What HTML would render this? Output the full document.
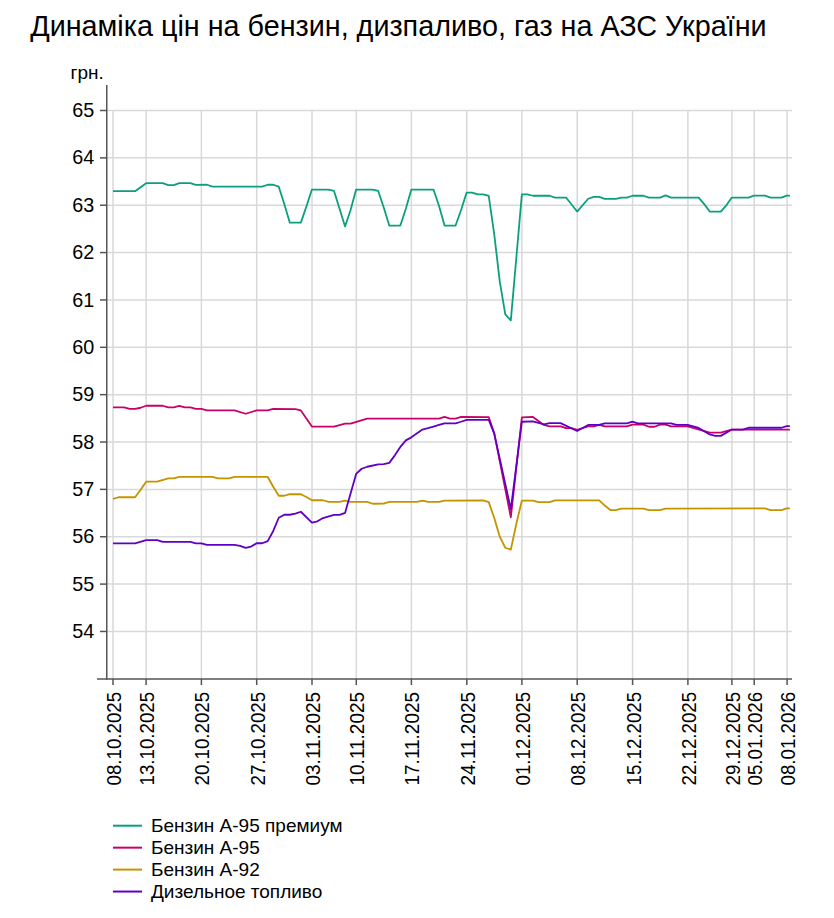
<!DOCTYPE html>
<html><head><meta charset="utf-8"><style>html,body{margin:0;padding:0;background:#fff;width:834px;height:918px;overflow:hidden}svg{display:block}</style></head>
<body><svg width="834" height="918" viewBox="0 0 834 918"><rect width="834" height="918" fill="#fff"/><g stroke="#d9d9d9" stroke-width="1.5"><line x1="107" y1="631.46" x2="792" y2="631.46"/><line x1="107" y1="584.10" x2="792" y2="584.10"/><line x1="107" y1="536.74" x2="792" y2="536.74"/><line x1="107" y1="489.38" x2="792" y2="489.38"/><line x1="107" y1="442.02" x2="792" y2="442.02"/><line x1="107" y1="394.66" x2="792" y2="394.66"/><line x1="107" y1="347.30" x2="792" y2="347.30"/><line x1="107" y1="299.94" x2="792" y2="299.94"/><line x1="107" y1="252.58" x2="792" y2="252.58"/><line x1="107" y1="205.22" x2="792" y2="205.22"/><line x1="107" y1="157.86" x2="792" y2="157.86"/><line x1="107" y1="110.50" x2="792" y2="110.50"/><line x1="113.00" y1="110.5" x2="113.00" y2="679"/><line x1="146.10" y1="110.5" x2="146.10" y2="679"/><line x1="201.40" y1="110.5" x2="201.40" y2="679"/><line x1="256.70" y1="110.5" x2="256.70" y2="679"/><line x1="312.00" y1="110.5" x2="312.00" y2="679"/><line x1="356.30" y1="110.5" x2="356.30" y2="679"/><line x1="411.40" y1="110.5" x2="411.40" y2="679"/><line x1="466.80" y1="110.5" x2="466.80" y2="679"/><line x1="521.90" y1="110.5" x2="521.90" y2="679"/><line x1="577.20" y1="110.5" x2="577.20" y2="679"/><line x1="632.60" y1="110.5" x2="632.60" y2="679"/><line x1="687.90" y1="110.5" x2="687.90" y2="679"/><line x1="731.90" y1="110.5" x2="731.90" y2="679"/><line x1="754.20" y1="110.5" x2="754.20" y2="679"/><line x1="787.10" y1="110.5" x2="787.10" y2="679"/></g><g stroke="#555" stroke-width="1.5"><line x1="106.75" y1="85" x2="106.75" y2="679.75"/><line x1="97" y1="679" x2="792" y2="679"/><line x1="100" y1="631.46" x2="106.75" y2="631.46"/><line x1="100" y1="584.10" x2="106.75" y2="584.10"/><line x1="100" y1="536.74" x2="106.75" y2="536.74"/><line x1="100" y1="489.38" x2="106.75" y2="489.38"/><line x1="100" y1="442.02" x2="106.75" y2="442.02"/><line x1="100" y1="394.66" x2="106.75" y2="394.66"/><line x1="100" y1="347.30" x2="106.75" y2="347.30"/><line x1="100" y1="299.94" x2="106.75" y2="299.94"/><line x1="100" y1="252.58" x2="106.75" y2="252.58"/><line x1="100" y1="205.22" x2="106.75" y2="205.22"/><line x1="100" y1="157.86" x2="106.75" y2="157.86"/><line x1="100" y1="110.50" x2="106.75" y2="110.50"/><line x1="113.00" y1="679" x2="113.00" y2="685"/><line x1="146.10" y1="679" x2="146.10" y2="685"/><line x1="201.40" y1="679" x2="201.40" y2="685"/><line x1="256.70" y1="679" x2="256.70" y2="685"/><line x1="312.00" y1="679" x2="312.00" y2="685"/><line x1="356.30" y1="679" x2="356.30" y2="685"/><line x1="411.40" y1="679" x2="411.40" y2="685"/><line x1="466.80" y1="679" x2="466.80" y2="685"/><line x1="521.90" y1="679" x2="521.90" y2="685"/><line x1="577.20" y1="679" x2="577.20" y2="685"/><line x1="632.60" y1="679" x2="632.60" y2="685"/><line x1="687.90" y1="679" x2="687.90" y2="685"/><line x1="731.90" y1="679" x2="731.90" y2="685"/><line x1="754.20" y1="679" x2="754.20" y2="685"/><line x1="787.10" y1="679" x2="787.10" y2="685"/></g><polyline fill="none" stroke="#0aa07e" stroke-width="1.8" stroke-linejoin="round" points="113.00,191.15 135.10,191.15 146.15,183.15 162.73,183.15 168.25,185.05 173.78,185.05 179.30,183.15 190.36,183.15 195.88,184.95 206.93,184.75 212.46,186.55 262.19,186.55 267.71,184.75 273.24,184.75 278.76,186.65 284.29,203.95 289.81,222.65 300.86,222.65 306.39,206.55 311.91,189.55 328.49,189.55 334.02,190.95 345.07,226.45 350.59,209.95 356.12,189.55 372.69,189.55 378.22,190.95 383.75,207.55 389.27,225.55 400.32,225.55 405.85,208.75 411.37,189.55 433.47,189.55 439.00,205.75 444.52,225.55 455.58,225.55 461.10,209.95 466.63,192.55 472.15,192.65 477.68,194.45 483.20,194.45 488.73,195.95 494.25,234.35 499.78,281.65 505.30,314.35 510.83,320.45 521.88,194.35 527.41,194.35 532.93,195.75 549.51,195.75 555.03,197.55 566.08,197.55 577.13,211.55 588.19,198.75 593.71,196.95 599.24,196.95 604.76,198.95 615.81,198.95 621.34,197.55 626.86,197.55 632.39,195.75 643.44,195.75 648.96,197.55 660.02,197.55 665.54,195.45 671.07,197.55 698.69,197.55 704.22,204.15 709.74,211.55 720.80,211.55 726.32,205.35 731.85,197.55 748.42,197.55 753.95,195.65 765.00,195.65 770.52,197.55 781.57,197.55 786.60,195.65 789.9,195.65"/><polyline fill="none" stroke="#c8006a" stroke-width="1.8" stroke-linejoin="round" points="113.00,407.35 124.05,407.35 129.58,408.95 135.10,408.95 140.63,407.75 146.15,405.75 162.73,405.75 168.25,407.35 173.78,407.35 179.30,405.95 184.83,407.35 190.36,407.35 195.88,408.95 201.41,408.95 206.93,410.45 234.56,410.45 245.61,413.75 256.66,410.45 267.71,410.45 273.24,408.95 295.34,409.05 300.86,410.45 306.39,418.55 311.91,426.55 334.02,426.55 345.07,423.55 350.59,423.55 367.17,418.55 439.00,418.55 444.52,416.95 450.05,418.55 455.58,418.55 461.10,416.95 488.73,417.05 494.25,433.35 510.83,517.25 521.88,417.45 532.93,416.95 543.98,424.95 549.51,426.45 560.56,426.45 566.08,428.15 571.61,428.15 577.13,429.75 588.19,426.45 593.71,426.45 599.24,424.95 604.76,426.45 626.86,426.45 632.39,424.55 643.44,424.55 648.96,426.75 654.49,426.75 660.02,424.55 665.54,424.55 671.07,426.45 687.64,426.45 709.74,432.65 720.80,432.65 731.85,429.55 786.60,429.55 789.9,429.55"/><polyline fill="none" stroke="#c49400" stroke-width="1.8" stroke-linejoin="round" points="113.00,498.95 118.53,497.25 135.10,497.25 140.63,489.75 146.15,481.65 157.20,481.65 168.25,478.35 173.78,478.35 179.30,476.95 212.46,476.95 217.98,478.35 229.03,478.35 234.56,476.95 267.71,476.95 273.24,486.75 278.76,495.75 284.29,495.75 289.81,494.05 300.86,494.25 306.39,496.95 311.91,500.25 322.97,500.25 328.49,501.95 339.54,501.95 345.07,500.55 350.59,501.95 367.17,501.95 372.69,503.75 383.75,503.65 389.27,501.95 416.90,501.95 422.42,500.55 427.95,501.95 439.00,501.95 444.52,500.55 483.20,500.35 488.73,502.15 494.25,517.95 499.78,536.65 505.30,547.75 510.83,549.65 516.35,523.75 521.88,500.55 532.93,500.55 538.46,502.15 549.51,502.15 555.03,500.45 599.24,500.45 604.76,505.55 610.29,510.05 615.81,510.05 621.34,508.55 643.44,508.55 648.96,510.05 660.02,510.05 665.54,508.55 765.00,508.45 770.52,510.05 781.57,510.05 786.60,508.45 789.9,508.45"/><polyline fill="none" stroke="#6000c6" stroke-width="1.8" stroke-linejoin="round" points="113.00,543.35 135.10,543.35 146.15,540.15 157.20,540.15 162.73,541.95 190.36,541.95 195.88,543.35 201.41,543.35 206.93,544.95 234.56,544.95 240.08,545.95 245.61,547.95 251.14,546.55 256.66,543.25 262.19,543.25 267.71,541.15 273.24,530.95 278.76,517.75 284.29,514.75 289.81,514.75 295.34,513.55 300.86,511.75 311.91,522.55 317.44,521.35 322.97,518.05 334.02,514.95 339.54,514.95 345.07,512.95 356.12,473.95 361.64,468.75 367.17,466.75 378.22,464.35 383.75,464.15 389.27,462.85 394.80,455.35 400.32,446.95 405.85,440.35 411.37,437.35 422.42,429.55 427.95,428.15 433.47,426.55 439.00,424.95 444.52,423.35 455.58,423.35 461.10,421.75 466.63,419.95 488.73,419.95 494.25,433.65 510.83,509.25 521.88,421.75 532.93,421.35 543.98,424.35 549.51,423.15 560.56,423.15 577.13,430.95 588.19,424.95 599.24,424.95 604.76,423.35 626.86,423.35 632.39,421.65 637.91,423.35 671.07,423.35 676.59,424.95 687.64,424.95 698.69,427.95 709.74,434.45 715.27,435.85 720.80,435.85 731.85,429.55 742.90,429.55 748.42,427.75 781.57,427.75 786.60,426.15 789.9,426.15"/><g style="font-family:'Liberation Sans',sans-serif;font-size:19px" fill="#000"><text x="94.2" y="638.06" text-anchor="end" style="font-size:19.8px">54</text><text x="94.2" y="590.70" text-anchor="end" style="font-size:19.8px">55</text><text x="94.2" y="543.34" text-anchor="end" style="font-size:19.8px">56</text><text x="94.2" y="495.98" text-anchor="end" style="font-size:19.8px">57</text><text x="94.2" y="448.62" text-anchor="end" style="font-size:19.8px">58</text><text x="94.2" y="401.26" text-anchor="end" style="font-size:19.8px">59</text><text x="94.2" y="353.90" text-anchor="end" style="font-size:19.8px">60</text><text x="94.2" y="306.54" text-anchor="end" style="font-size:19.8px">61</text><text x="94.2" y="259.18" text-anchor="end" style="font-size:19.8px">62</text><text x="94.2" y="211.82" text-anchor="end" style="font-size:19.8px">63</text><text x="94.2" y="164.46" text-anchor="end" style="font-size:19.8px">64</text><text x="94.2" y="117.10" text-anchor="end" style="font-size:19.8px">65</text><text x="70.5" y="79" >грн.</text><text transform="translate(120.90,691.9) rotate(-90)" text-anchor="end" style="font-size:19.6px" textLength="93.6" lengthAdjust="spacingAndGlyphs">08.10.2025</text><text transform="translate(154.00,691.9) rotate(-90)" text-anchor="end" style="font-size:19.6px" textLength="93.6" lengthAdjust="spacingAndGlyphs">13.10.2025</text><text transform="translate(209.30,691.9) rotate(-90)" text-anchor="end" style="font-size:19.6px" textLength="93.6" lengthAdjust="spacingAndGlyphs">20.10.2025</text><text transform="translate(264.60,691.9) rotate(-90)" text-anchor="end" style="font-size:19.6px" textLength="93.6" lengthAdjust="spacingAndGlyphs">27.10.2025</text><text transform="translate(319.90,691.9) rotate(-90)" text-anchor="end" style="font-size:19.6px" textLength="93.6" lengthAdjust="spacingAndGlyphs">03.11.2025</text><text transform="translate(364.20,691.9) rotate(-90)" text-anchor="end" style="font-size:19.6px" textLength="93.6" lengthAdjust="spacingAndGlyphs">10.11.2025</text><text transform="translate(419.30,691.9) rotate(-90)" text-anchor="end" style="font-size:19.6px" textLength="93.6" lengthAdjust="spacingAndGlyphs">17.11.2025</text><text transform="translate(474.70,691.9) rotate(-90)" text-anchor="end" style="font-size:19.6px" textLength="93.6" lengthAdjust="spacingAndGlyphs">24.11.2025</text><text transform="translate(529.80,691.9) rotate(-90)" text-anchor="end" style="font-size:19.6px" textLength="93.6" lengthAdjust="spacingAndGlyphs">01.12.2025</text><text transform="translate(585.10,691.9) rotate(-90)" text-anchor="end" style="font-size:19.6px" textLength="93.6" lengthAdjust="spacingAndGlyphs">08.12.2025</text><text transform="translate(640.50,691.9) rotate(-90)" text-anchor="end" style="font-size:19.6px" textLength="93.6" lengthAdjust="spacingAndGlyphs">15.12.2025</text><text transform="translate(695.80,691.9) rotate(-90)" text-anchor="end" style="font-size:19.6px" textLength="93.6" lengthAdjust="spacingAndGlyphs">22.12.2025</text><text transform="translate(739.80,691.9) rotate(-90)" text-anchor="end" style="font-size:19.6px" textLength="93.6" lengthAdjust="spacingAndGlyphs">29.12.2025</text><text transform="translate(762.10,691.9) rotate(-90)" text-anchor="end" style="font-size:19.6px" textLength="93.6" lengthAdjust="spacingAndGlyphs">05.01.2026</text><text transform="translate(795.00,691.9) rotate(-90)" text-anchor="end" style="font-size:19.6px" textLength="93.6" lengthAdjust="spacingAndGlyphs">08.01.2026</text></g><g style="font-family:'Liberation Sans',sans-serif;font-size:19px" fill="#000"><line x1="113" y1="825.70" x2="142" y2="825.70" stroke="#0aa07e" stroke-width="2"/><text x="151" y="831.80">Бензин А-95 премиум</text><line x1="113" y1="847.65" x2="142" y2="847.65" stroke="#c8006a" stroke-width="2"/><text x="151" y="853.75">Бензин А-95</text><line x1="113" y1="869.60" x2="142" y2="869.60" stroke="#c49400" stroke-width="2"/><text x="151" y="875.70">Бензин А-92</text><line x1="113" y1="891.55" x2="142" y2="891.55" stroke="#6000c6" stroke-width="2"/><text x="151" y="897.65">Дизельное топливо</text></g><text x="30.2" y="36.3" style="font-family:'Liberation Sans',sans-serif;font-size:28.75px" fill="#000">Динаміка цін на бензин, дизпаливо, газ на АЗС України</text></svg></body></html>
